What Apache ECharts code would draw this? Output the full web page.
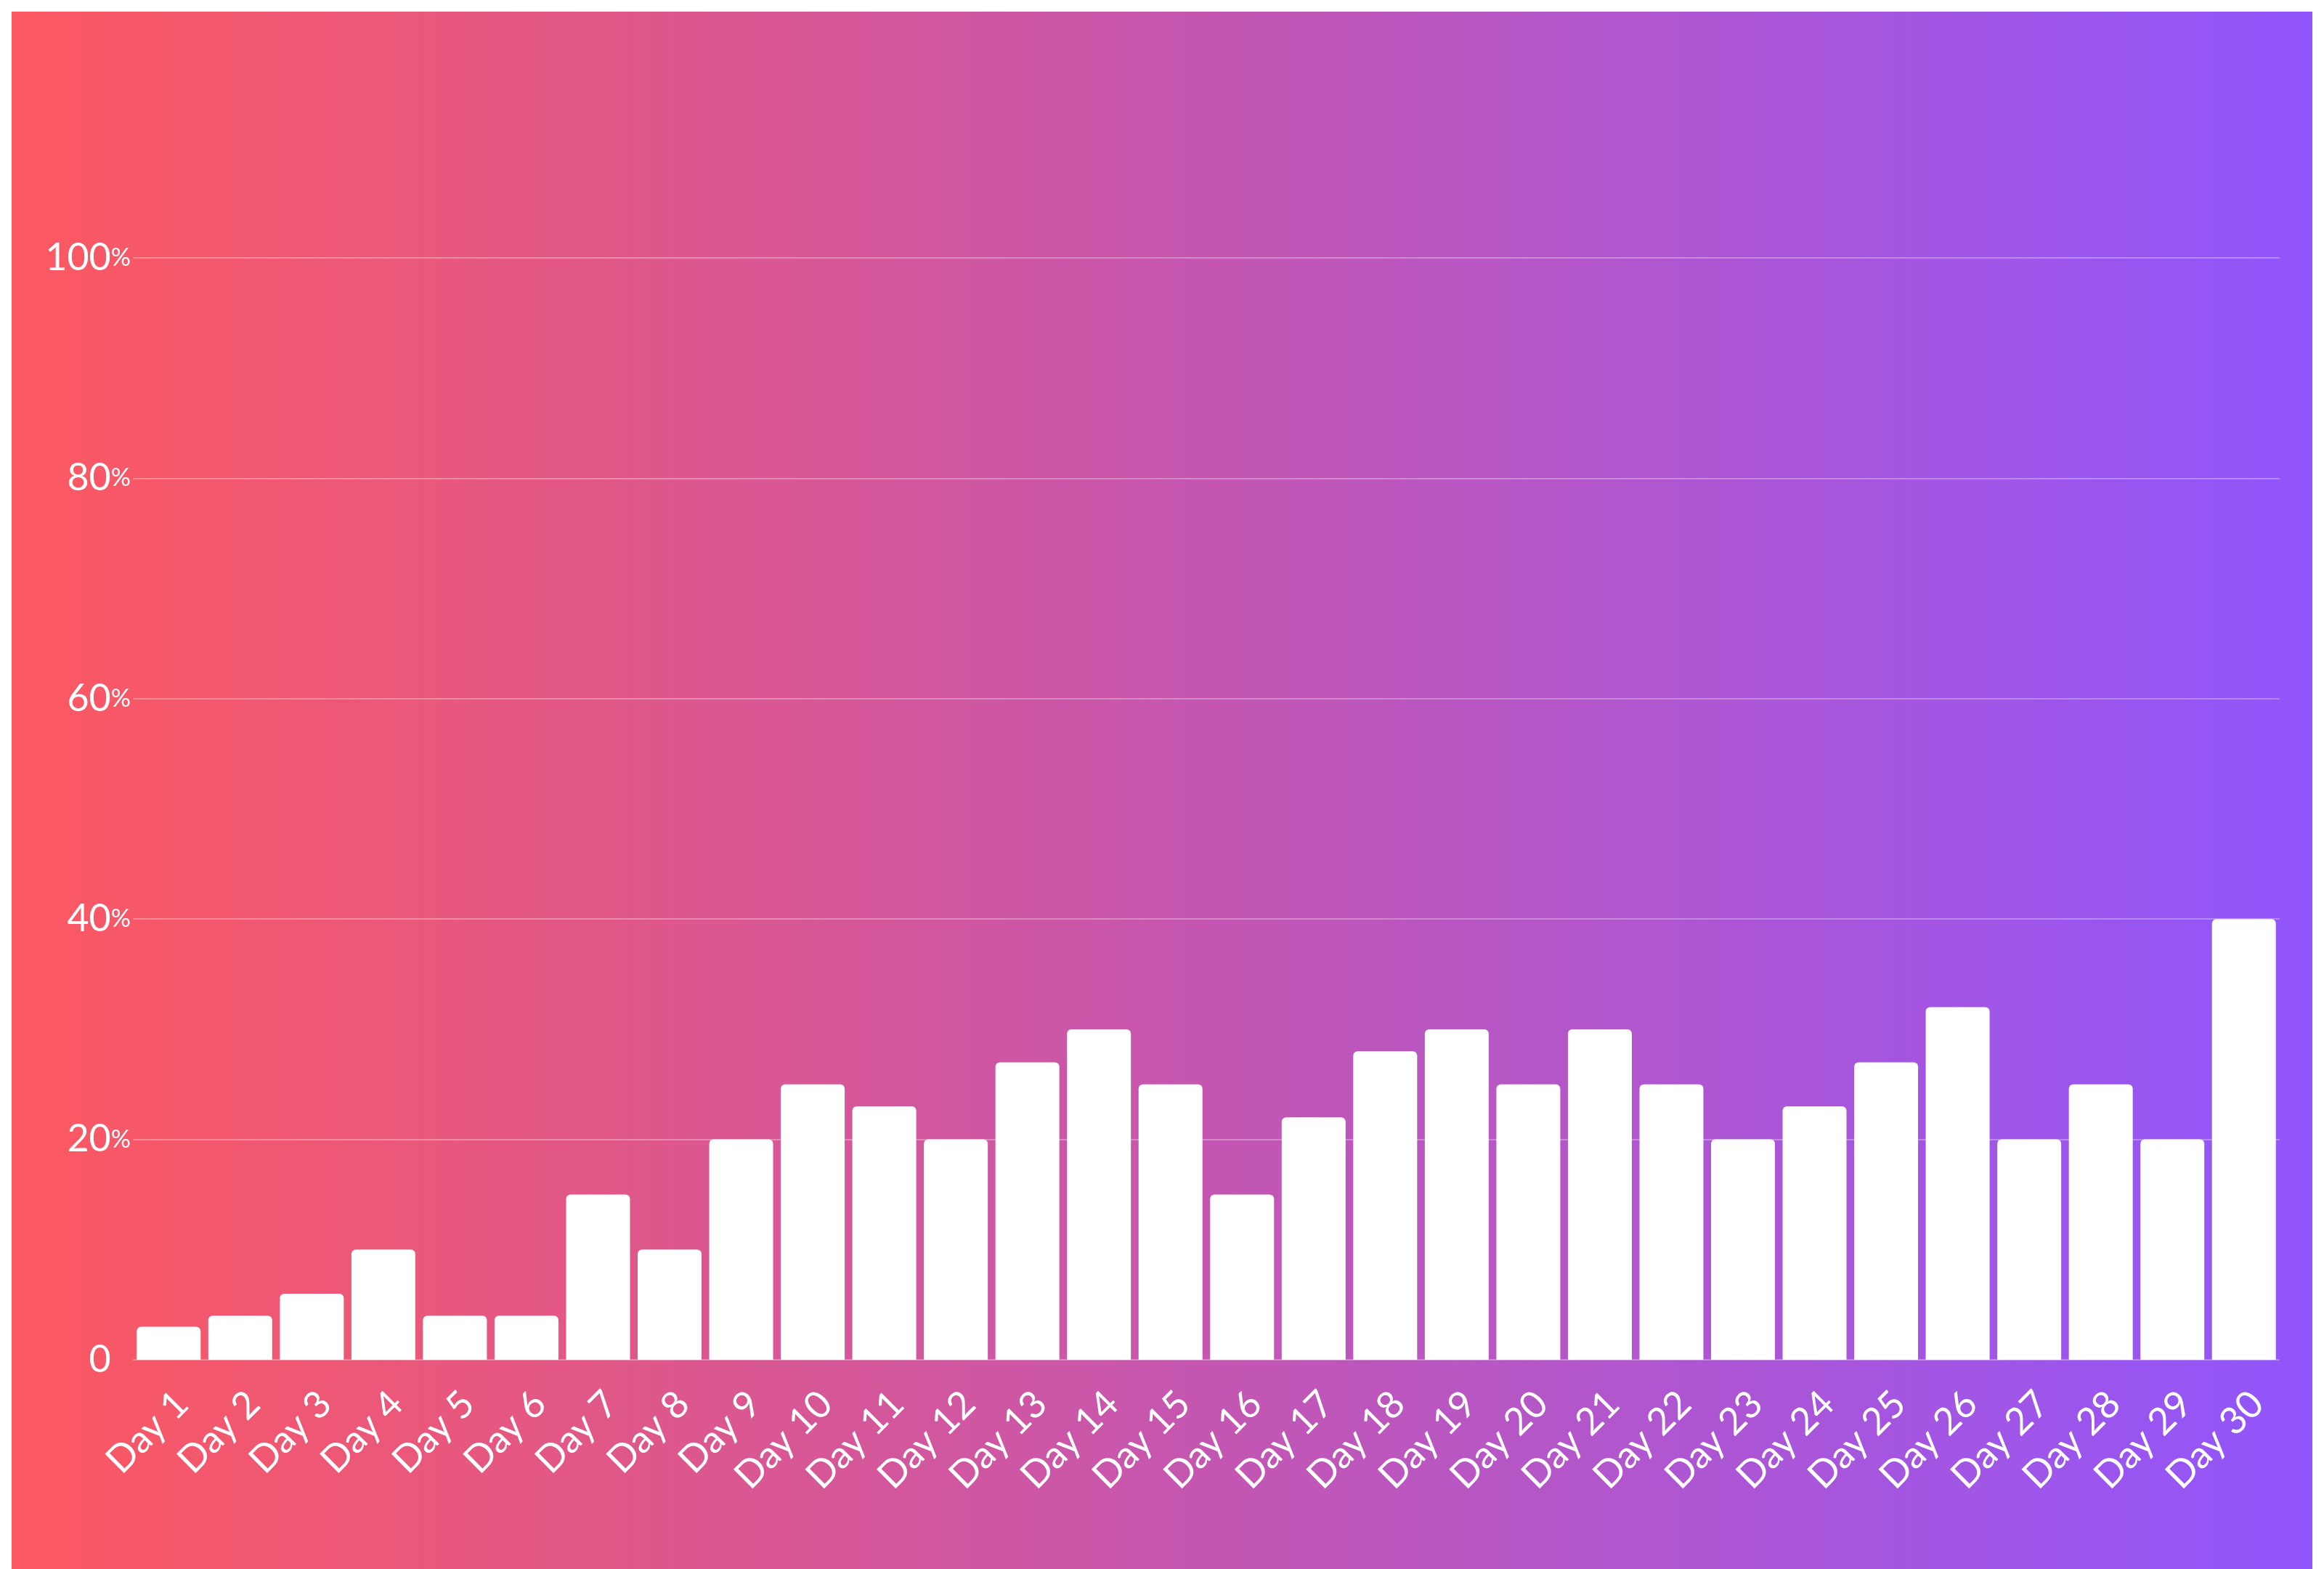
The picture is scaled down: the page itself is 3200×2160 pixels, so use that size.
<!DOCTYPE html>
<html>
<head>
<meta charset="utf-8">
<script src="https://cdn.jsdelivr.net/npm/echarts@6/dist/echarts.min.js"></script>
<style>
html,body{margin:0;padding:0;background:#ffffff;overflow:hidden;}
#chart{position:absolute;left:16px;top:16px;width:3168px;height:2144px;}
</style>
</head>
<body>
<div id="chart"></div>
<script>
var categories = ['Day 1','Day 2','Day 3','Day 4','Day 5','Day 6','Day 7','Day 8','Day 9','Day 10',
  'Day 11','Day 12','Day 13','Day 14','Day 15','Day 16','Day 17','Day 18','Day 19','Day 20',
  'Day 21','Day 22','Day 23','Day 24','Day 25','Day 26','Day 27','Day 28','Day 29','Day 30'];
var values = [3,4,6,10,4,4,15,10,20,25,23,20,27,30,25,15,22,28,30,25,30,25,20,23,27,32,20,25,20,40];
var yTicks = [0,20,40,60,80,100];

var FONT = 'Lato, "Noto Sans", sans-serif';
var chart = echarts.init(document.getElementById('chart'), null, {renderer:'canvas'});
chart.setOption({
  animation:false,
  backgroundColor:{type:'linear',x:0,y:0,x2:1,y2:0,colorStops:[
    {offset:0,color:'#fc5860'},{offset:1,color:'#9155fc'}]},
  grid:{left:167,right:45,top:339,bottom:288,containLabel:false},
  xAxis:{
    type:'category',
    data:categories,
    axisLine:{show:false},
    axisTick:{show:false},
    axisLabel:{
      interval:0,rotate:45,align:'right',verticalAlign:'top',margin:34,
      color:'#ffffff',fontSize:52,fontFamily:FONT
    }
  },
  yAxis:{
    type:'value',
    min:yTicks[0],max:yTicks[yTicks.length-1],interval:yTicks[1]-yTicks[0],
    axisLine:{show:false},axisTick:{show:false},
    splitLine:{lineStyle:{color:'rgba(255,255,255,0.3)',width:2}},
    axisLabel:{
      margin:3,
      formatter:function(v){return v===0?'{v|0}{h|%}':'{v|'+v+'}{p|%}';},
      rich:{
        v:{color:'#ffffff',fontSize:52,fontFamily:FONT},
        p:{color:'#ffffff',fontSize:34,fontFamily:FONT,verticalAlign:'middle'},
        h:{color:'rgba(0,0,0,0)',fontSize:34,fontFamily:FONT,verticalAlign:'middle'}
      }
    }
  },
  series:[{
    type:'bar',
    data:values,
    barCategoryGap:'10.7%',
    itemStyle:{color:'#ffffff',borderRadius:[6,6,0,0]}
  }]
});
</script>
</body>
</html>
